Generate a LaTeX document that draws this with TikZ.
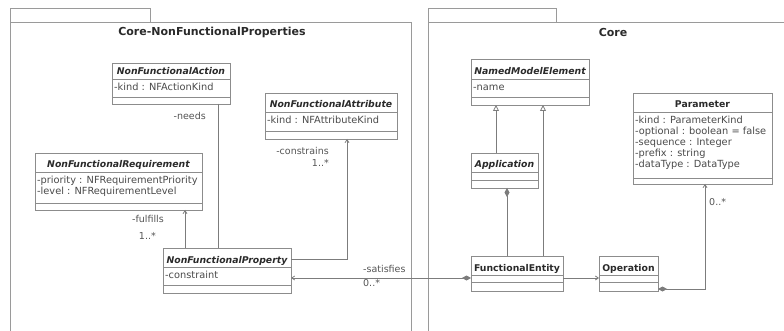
\documentclass[tikz,border=0pt]{standalone}
\usepackage{fontspec}
\setmainfont{DejaVu Sans}
\usetikzlibrary{arrows.meta}
\definecolor{boxc}{HTML}{8C8C8C}
\definecolor{linec}{HTML}{7C7C7C}
\definecolor{pkgc}{HTML}{9A9A9A}
\definecolor{txtc}{HTML}{2A2A2A}
\definecolor{attrc}{HTML}{4A4A4A}
\definecolor{lblc}{HTML}{555555}
\newcommand\absname{\fontsize{9.3}{11}\selectfont\bfseries\itshape}
\newcommand\conname{\fontsize{9.3}{11}\selectfont\bfseries}
\tikzset{
  classbox/.style={draw=boxc, line width=0.9pt, fill=white, inner sep=0pt, outer sep=0pt},
  sepline/.style={draw=boxc, line width=0.9pt},
  clstitle/.style={text=txtc, inner sep=0pt, anchor=base},
  attr/.style={font=\fontsize{9.8}{11}\selectfont, text=attrc, inner sep=0pt, anchor=base west},
  lbl/.style={font=\fontsize{9.5}{11}\selectfont, text=lblc, inner sep=0pt},
  pkg/.style={draw=pkgc, line width=0.9pt},
  pkgtitle/.style={font=\fontsize{11}{13}\selectfont\bfseries, text=txtc, inner sep=0pt, anchor=center},
  conn/.style={draw=linec, line width=0.8pt},
  navarrow/.style={conn, -{Straight Barb[length=3pt,width=4pt]}},
  compo/.style={conn, {Diamond[length=9pt,width=5pt,fill=linec]}-},
  compnav/.style={conn, {Diamond[length=9pt,width=5pt,fill=linec]}-{Straight Barb[length=3pt,width=4pt]}},
  gen/.style={conn, -{Triangle[open,length=6pt,width=6pt,fill=white]}}
}
% name, x1, y1, x2, y2, header bottom, section line, title, attributes
\newcommand\umlclass[9]{%
  \node[classbox, anchor=north west, minimum width=#4-#2, minimum height=#5-#3] (#1) at (#2,#3) {};
  \draw[sepline] (#2,#6) -- (#4,#6);
  \draw[sepline] (#2,#7) -- (#4,#7);
  \node[clstitle] (#1-title) at ({(#2+#4)/2},{#6-4}) {#8};
  \foreach \a [count=\i] in {#9} {\node[attr] (#1-attr-\i) at (#2+2,{#6+11.5+(\i-1)*11}) {\a};}
}
\begin{document}
\begin{tikzpicture}[x=1pt,y=-1pt]
\useasboundingbox[fill=white] (0,0) rectangle (784,331);
% packages
\draw[pkg] (10,8) rectangle (150,22);
\draw[pkg] (10,331) -- (10,22) -- (411,22) -- (411,331);
\node[pkgtitle] (pkgnfp) at (212,32) {Core-NonFunctionalProperties};
\draw[pkg] (428,8) rectangle (556,22);
\draw[pkg] (428,331) -- (428,22) -- (784,22);
\node[pkgtitle] (pkgcore) at (613,32) {Core};
% classes
\umlclass{nfa}{112}{63}{230}{104}{79}{97}{\absname NonFunctionalAction}{-kind : NFActionKind}
\umlclass{nfattr}{265}{93}{397}{139}{112}{131}{\absname NonFunctionalAttribute}{-kind : NFAttributeKind}
\umlclass{nfr}{35}{153}{202}{210}{172}{203}{\absname NonFunctionalRequirement}{-priority : NFRequirementPriority,-level : NFRequirementLevel}
\umlclass{nfp}{163}{248}{291}{293}{267}{285}{\absname NonFunctionalProperty}{-constraint}
\umlclass{nme}{471}{59}{589}{105}{79}{97}{\absname NamedModelElement}{-name}
\umlclass{app}{471}{153}{538}{188}{172}{180}{\absname Application}{}
\umlclass{param}{633}{93}{772}{184}{112}{178}{\conname Parameter}{-kind : ParameterKind,-optional : boolean = false,-sequence : Integer,-prefix : string,-dataType : DataType}
\umlclass{fe}{471}{256}{563}{291}{275}{282}{\conname FunctionalEntity}{}
\umlclass{op}{599}{256}{658}{291}{275}{282}{\conname Operation}{}
% connectors
\draw[conn] (218,0 |- nfa.south) -- (218,0 |- nfp.north);
\node[lbl, anchor=base east] (lneeds) at (206,119.5) {-needs};
\draw[navarrow] (185,0 |- nfp.north) -- (185,0 |- nfr.south);
\node[lbl, anchor=base east] (lfulfills) at (164,222.5) {-fulfills};
\node[lbl, anchor=base east] (lfulmult) at (156,239) {1..*};
\draw[navarrow] (nfp.east |- 0,259) -- (347,259) -- (347,0 |- nfattr.south);
\node[lbl, anchor=base east] (lconstr) at (329,154.5) {-constrains};
\node[lbl, anchor=base east] (lconmult) at (329,167) {1..*};
\draw[compnav] (fe.west |- 0,278) -- (nfp.east |- 0,278);
\node[lbl, anchor=base west] (lsat) at (363,272) {-satisfies};
\node[lbl, anchor=base west] (lsatmult) at (363,286) {0..*};
\draw[compo] (507,0 |- app.south) -- (507,0 |- fe.north);
\draw[gen] (496,0 |- app.north) -- (496,0 |- nme.south);
\draw[gen] (543,0 |- fe.north) -- (543,0 |- nme.south);
\draw[navarrow] (fe.east |- 0,278) -- (op.west |- 0,278);
\draw[compnav] (op.east |- 0,289) -- (705,289) -- (705,0 |- param.south);
\node[lbl, anchor=base west] (lparmult) at (709,205) {0..*};
\end{tikzpicture}
\end{document}
